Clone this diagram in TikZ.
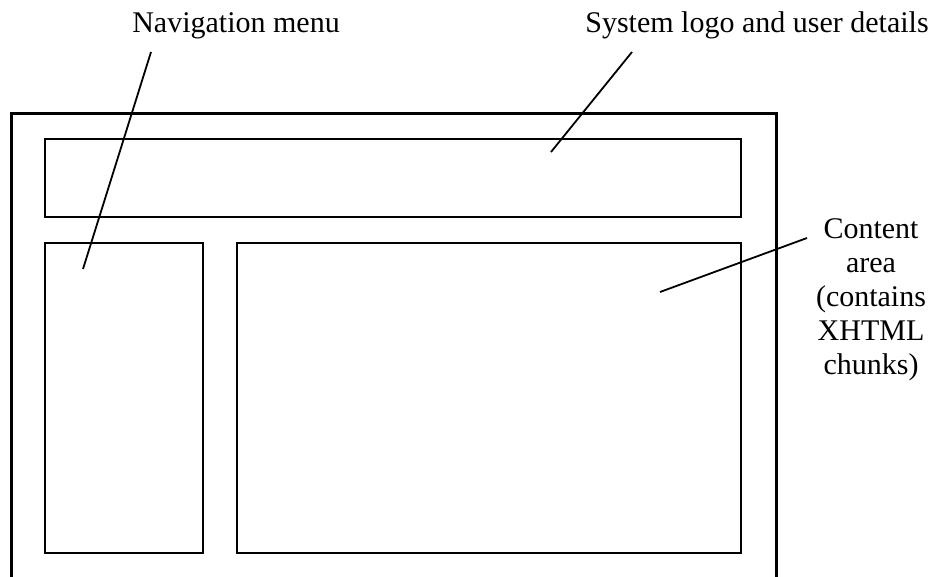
\documentclass[tikz,border=0pt]{standalone}
\usepackage{fontspec}
\setmainfont{Liberation Serif}
\usetikzlibrary{positioning}

\tikzset{
  panel/.style={draw, line width=2.3pt, inner sep=0pt},
  label/.style={font=\fontsize{30}{33.8}\selectfont, inner sep=0pt, anchor=base},
  leader/.style={line width=1.8pt}
}

\begin{document}
\begin{tikzpicture}[x=1pt,y=-1pt]
\useasboundingbox (0,0) rectangle (937,577);

\draw[line width=3pt] (11,580) -- (11,114) -- (776,114) -- (776,580);

\node[panel, minimum width=696pt, minimum height=78pt] (header) at (393,178) {};
\node[panel, minimum width=158pt, minimum height=310pt] (nav) at (124,398) {};
\node[panel, minimum width=504pt, minimum height=310pt] (content) at (489,398) {};

\node[label] (navlabel) at (236,33) {Navigation menu};
\node[label] (headerlabel) at (757,33) {System logo and user details};
\node[label, align=center] (contentlabel) at (871,374) {Content\\area\\(contains\\XHTML\\chunks)};

\coordinate (navtip) at (83,269);
\coordinate (navend) at (151,52);
\coordinate (headertip) at (551,152);
\coordinate (headerend) at (632,52);
\coordinate (contenttip) at (660,292);
\coordinate (contentend) at (807,238);

\draw[leader] (navend) -- (navtip);
\draw[leader] (headerend) -- (headertip);
\draw[leader] (contentend) -- (contenttip);
\end{tikzpicture}
\end{document}
